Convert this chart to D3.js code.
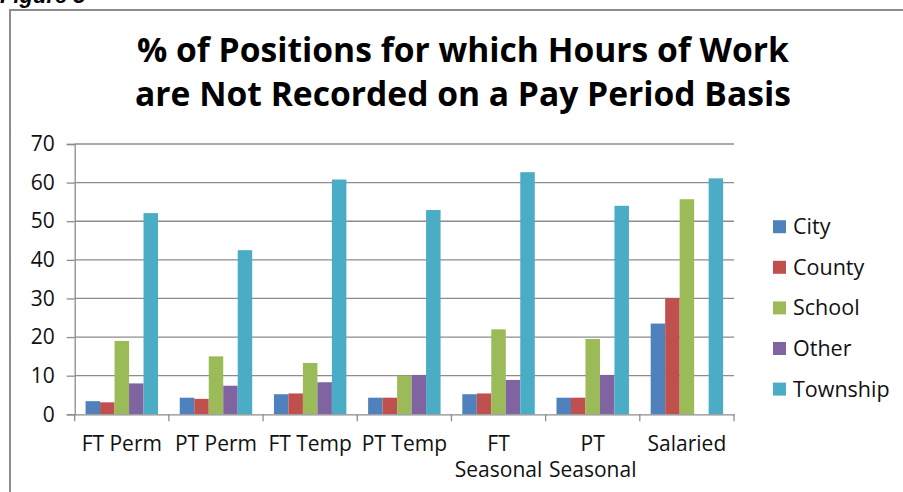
<!DOCTYPE html>
<html>
<head>
<meta charset="utf-8">
<script src="https://cdn.jsdelivr.net/npm/d3@7"></script>
<style>
  html, body { margin: 0; padding: 0; background: #fff; }
  svg { display: block; }
</style>
</head>
<body>
<svg id="chart" width="903" height="492"></svg>
<script>
// ---- data ----
const categories = ["FT Perm", "PT Perm", "FT Temp", "PT Temp", "FT\nSeasonal", "PT\nSeasonal", "Salaried"];
const seriesNames = ["City", "County", "School", "Other", "Township"];
const city     = [3.4, 4.3, 5.2, 4.3, 5.2, 4.3, 23.5];
const county   = [3.1, 4.0, 5.4, 4.3, 5.4, 4.3, 30.1];
const school   = [19.0, 15.0, 13.3, 10.0, 22.0, 19.5, 55.7];
const other    = [8.0, 7.4, 8.3, 10.2, 8.9, 10.2, 0];
const township = [52.1, 42.5, 60.8, 52.9, 62.7, 54.0, 61.1];
const yTicks = [0, 10, 20, 30, 40, 50, 60, 70];
const titleLines = ["% of Positions for which Hours of Work", "are Not Recorded on a Pay Period Basis"];
const figureLabel = "Figure 5";

const seriesValues = [city, county, school, other, township];
const colors = ["#4F81BD", "#C0504D", "#9BBB59", "#8064A2", "#4BACC6"];

const svg = d3.select("#chart");
const font = "'Open Sans', 'DejaVu Sans', sans-serif";

// frame + figure label
svg.append("text").attr("x", 0).attr("y", 3)
  .attr("font-family", "'Liberation Sans', Arial, sans-serif")
  .attr("font-weight", "bold").attr("font-style", "italic")
  .attr("font-size", 22).attr("fill", "#000").text(figureLabel);
svg.append("path").attr("d", "M10,492 V10 H903")
  .attr("fill", "none").attr("stroke", "#8c8c8c").attr("stroke-width", 2);

// title
const title = svg.append("g");
titleLines.forEach((t, i) => {
  title.append("text").attr("x", 463).attr("y", 62 + i * 44)
    .attr("text-anchor", "middle").attr("font-family", font)
    .attr("font-weight", "bold").attr("font-size", 30).attr("fill", "#000").text(t);
});
// fit title width
const tnode = title.select("text").node();
const w = tnode.getComputedTextLength();
const fs = 30 * 652 / w;
title.selectAll("text").attr("font-size", fs);

// scales
const plotLeft = 74.7, plotRight = 734, yBottom = 414.3, yTop = 144;
const x = d3.scaleBand().domain(categories).range([plotLeft, plotRight]).padding(0);
const xs = d3.scaleBand().domain(seriesNames).range([0, x.bandwidth()]).paddingInner(0).paddingOuter(0.75);
const y = d3.scaleLinear().domain([0, 70]).range([yBottom, yTop]);

// gridlines
svg.append("g").selectAll("line").data(yTicks.filter(d => d > 0)).join("line")
  .attr("x1", plotLeft).attr("x2", plotRight)
  .attr("y1", d => y(d)).attr("y2", d => y(d))
  .attr("stroke", "#8c8c8c").attr("stroke-width", 1.3);

// y axis
const yAxis = d3.axisLeft(y).tickValues(yTicks).tickSize(8).tickPadding(12).tickFormat(d3.format("d"));
const gy = svg.append("g").attr("transform", `translate(${plotLeft},0)`).call(yAxis);
gy.select(".domain").attr("stroke", "#8c8c8c").attr("stroke-width", 1.3);
gy.selectAll(".tick line").attr("stroke", "#8c8c8c").attr("stroke-width", 1.3);
gy.selectAll(".tick text").attr("font-family", font).attr("font-size", 21).attr("fill", "#111");

// bars
const groups = svg.append("g").selectAll("g").data(categories).join("g")
  .attr("transform", d => `translate(${x(d)},0)`);
groups.selectAll("rect").data((d, i) => seriesNames.map((s, j) => ({ s, v: seriesValues[j][i], c: colors[j] })))
  .join("rect")
  .attr("x", d => xs(d.s)).attr("width", xs.bandwidth())
  .attr("y", d => y(d.v)).attr("height", d => yBottom - y(d.v))
  .attr("fill", d => d.c);

// x axis
const xAxis = d3.axisBottom(x).tickSize(0).tickFormat("");
const gx = svg.append("g").attr("transform", `translate(0,${yBottom})`).call(xAxis);
gx.select(".domain").attr("stroke", "#8c8c8c").attr("stroke-width", 1.3);
// boundary tick marks
const bounds = categories.map(c => x(c)).concat([plotRight]);
svg.append("g").selectAll("line").data(bounds).join("line")
  .attr("x1", d => d).attr("x2", d => d).attr("y1", yBottom).attr("y2", yBottom + 7)
  .attr("stroke", "#8c8c8c").attr("stroke-width", 1.3);
// labels
const xl = svg.append("g").selectAll("text").data(categories).join("text")
  .attr("x", d => x(d) + x.bandwidth() / 2).attr("y", 451)
  .attr("text-anchor", "middle").attr("font-family", font).attr("font-size", 21).attr("fill", "#111");
xl.each(function(d) {
  const lines = d.split("\n");
  d3.select(this).selectAll("tspan").data(lines).join("tspan")
    .attr("x", x(d) + x.bandwidth() / 2).attr("dy", (l, i) => i === 0 ? 0 : 26).text(l => l);
});

// legend
const lg = svg.append("g").selectAll("g").data(seriesNames).join("g")
  .attr("transform", (d, i) => `translate(773,${226.7 + i * 40.6})`);
lg.append("rect").attr("x", 0).attr("y", -6.5).attr("width", 13).attr("height", 13)
  .attr("fill", (d, i) => colors[i]);
lg.append("text").attr("x", 20).attr("y", 7.5).attr("font-family", font).attr("font-size", 21.5)
  .attr("fill", "#111").text(d => d);
</script>
</body>
</html>
